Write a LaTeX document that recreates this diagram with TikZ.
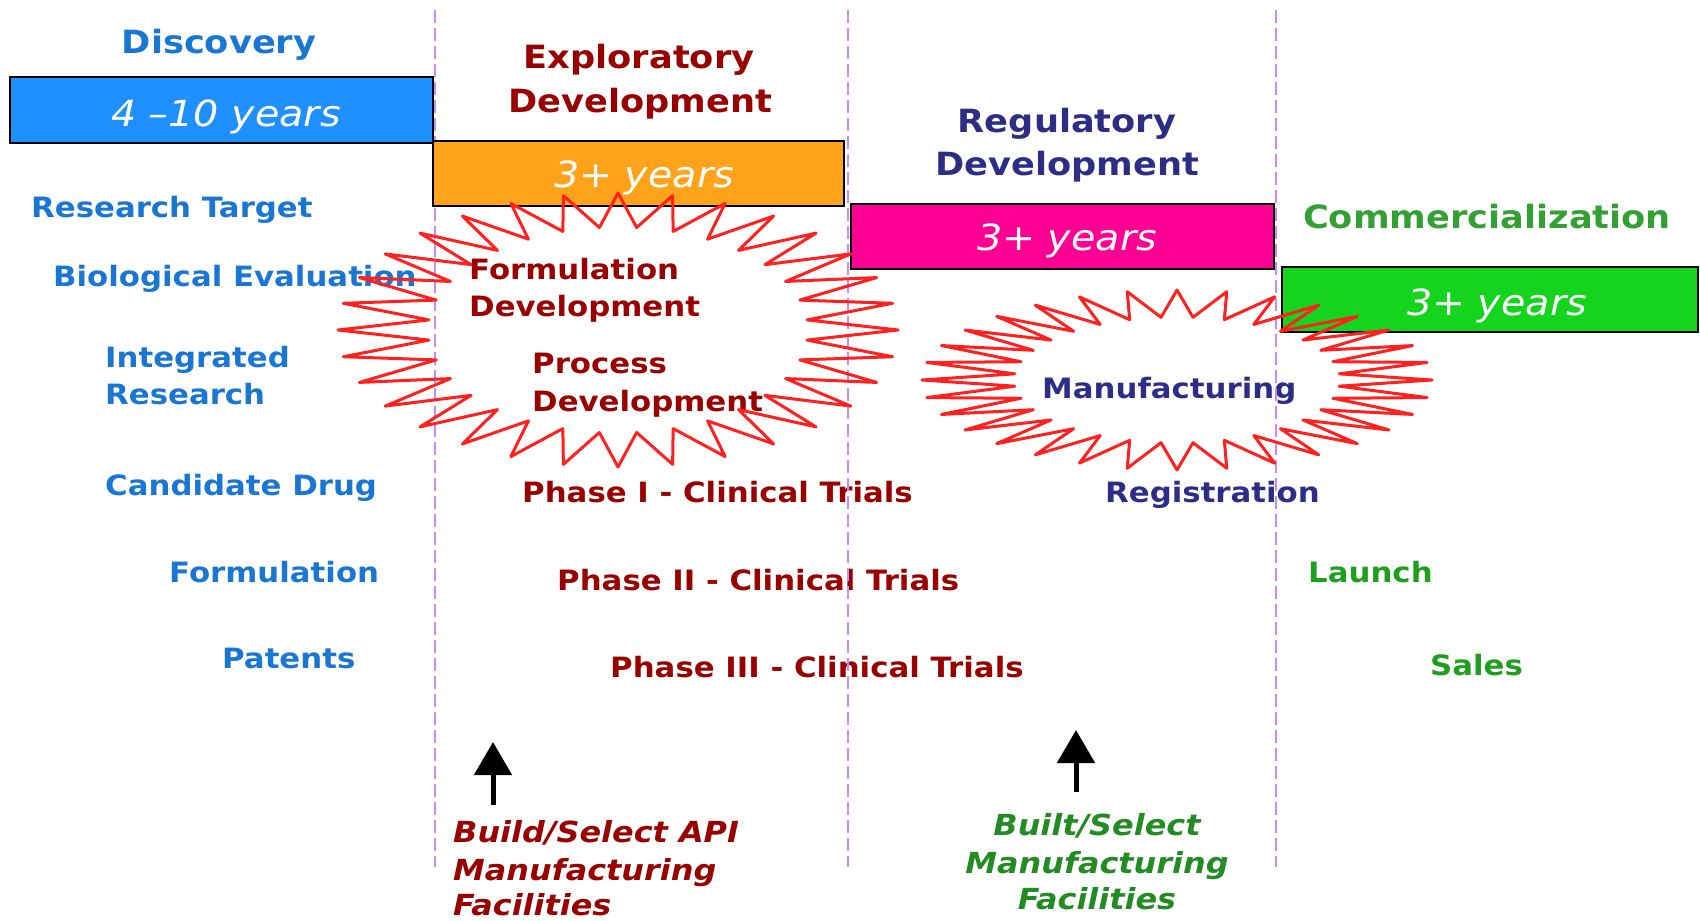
\documentclass[tikz,border=0pt]{standalone}
\usepackage{fontspec}
\setmainfont{DejaVu Sans}[FakeStretch=1.1]
\usetikzlibrary{arrows.meta}

\definecolor{discblue}{HTML}{1976D2}
\definecolor{phred}{HTML}{990000}
\definecolor{regnavy}{HTML}{2D2D86}
\definecolor{comgreen}{HTML}{33A033}
\definecolor{lgreen}{HTML}{1EA01E}
\definecolor{facgreen}{HTML}{228B22}
\definecolor{barblue}{HTML}{1E90FF}
\definecolor{barorange}{HTML}{FFA31A}
\definecolor{barpink}{HTML}{FF0094}
\definecolor{bargreen}{HTML}{14D41E}
\definecolor{guide}{HTML}{C58CFF}
\definecolor{burstred}{HTML}{FF2020}

\tikzset{
  head/.style={font=\fontsize{32bp}{38bp}\selectfont\bfseries, inner sep=0pt, anchor=base},
  item/.style={font=\fontsize{28bp}{34bp}\selectfont\bfseries, inner sep=0pt, anchor=base west},
  yrs/.style={font=\fontsize{36bp}{40bp}\selectfont\itshape, text=white, inner sep=0pt, anchor=base},
  fac/.style={font=\fontsize{29bp}{38bp}\selectfont\bfseries\itshape, inner sep=0pt},
  bar/.style={draw=black, line width=1.5bp, inner sep=0pt},
  guideline/.style={draw=guide, line width=1.5bp, dash pattern=on 13bp off 5bp},
  burst/.style={draw=burstred, line width=3bp, line join=round},
  uparrow/.style={draw=black, line width=5bp, -{Triangle[width=37bp,length=33bp]}},
}

\begin{document}
\begin{tikzpicture}[x=1bp, y=-1bp]
  \useasboundingbox (0,0) rectangle (1700,920);
  \fill[white] (0,0) rectangle (1700,920);

  % phase headings
  \node[head, text=discblue] (hdisc) at (219,53) {Discovery};
  \node[head, text=phred] (hexp1) at (639,68) {Exploratory};
  \node[head, text=phred] (hexp2) at (640,112) {Development};
  \node[head, text=regnavy] (hreg1) at (1067,132) {Regulatory};
  \node[head, text=regnavy] (hreg2) at (1067,175) {Development};
  \node[head, text=comgreen] (hcom) at (1487,228) {Commercialization};

  % discovery activities
  \node[item, text=discblue] (rtarget) at (31,217) {Research Target};
  \node[item, text=discblue] (bioeval) at (53,286) {Biological Evaluation};
  \node[item, text=discblue] (intres1) at (105,367) {Integrated};
  \node[item, text=discblue] (intres2) at (105,404) {Research};
  \node[item, text=discblue] (cdrug) at (105,495) {Candidate Drug};
  \node[item, text=discblue] (dform) at (169,582) {Formulation};
  \node[item, text=discblue] (patents) at (222,668) {Patents};

  % exploratory development
  \node[item, text=phred] (fdev1) at (469,279) {Formulation};
  \node[item, text=phred] (fdev2) at (469,316) {Development};
  \node[item, text=phred] (pdev1) at (532,373) {Process};
  \node[item, text=phred] (pdev2) at (532,411) {Development};
  \node[item, text=phred] (ph1) at (522,502) {Phase I - Clinical Trials};
  \node[item, text=phred] (ph2) at (557,590) {Phase II - Clinical Trials};
  \node[item, text=phred] (ph3) at (610,677) {Phase III - Clinical Trials};

  % regulatory development
  \node[item, text=regnavy] (manuf) at (1042,398) {Manufacturing};
  \node[item, text=regnavy] (regist) at (1105,502) {Registration};

  % commercialization
  \node[item, text=lgreen] (launch) at (1308,582) {Launch};
  \node[item, text=lgreen] (sales) at (1430,675) {Sales};

  % facilities notes
  \node[fac, text=phred, anchor=base west] (api1) at (453,842) {Build/Select API};
  \node[fac, text=phred, anchor=base west] (api2) at (453,880) {Manufacturing};
  \node[fac, text=phred, anchor=base west] (api3) at (453,915) {Facilities};
  \node[fac, text=facgreen, anchor=base] (mfg1) at (1097,835) {Built/Select};
  \node[fac, text=facgreen, anchor=base] (mfg2) at (1097,873) {Manufacturing};
  \node[fac, text=facgreen, anchor=base] (mfg3) at (1097,909) {Facilities};

  % stage separators
  \coordinate (sepAtop) at (435,10);   \coordinate (sepAbot) at (435,867);
  \coordinate (sepBtop) at (848,10);   \coordinate (sepBbot) at (848,867);
  \coordinate (sepCtop) at (1276,10);  \coordinate (sepCbot) at (1276,867);
  \draw[guideline] (sepAtop) -- (sepAbot);
  \draw[guideline] (sepBtop) -- (sepBbot);
  \draw[guideline] (sepCtop) -- (sepCbot);

  % duration bars
  \node[bar, fill=barblue, minimum width=423bp, minimum height=66bp] (bdisc) at (221.5,110) {};
  \node[bar, fill=barorange, minimum width=411bp, minimum height=65bp] (bexp) at (638.5,173.5) {};
  \node[bar, fill=barpink, minimum width=423bp, minimum height=65bp] (breg) at (1062.5,236.5) {};
  \node[bar, fill=bargreen, minimum width=416bp, minimum height=65bp] (bcom) at (1490,299.5) {};
  \node[yrs] (ydisc) at (226,126) {4 –10 years};
  \node[yrs] (yexp) at (644,187) {3+ years};
  \node[yrs] (yreg) at (1067,250) {3+ years};
  \node[yrs] (ycom) at (1497,315) {3+ years};

  % 32-point bursts
  \coordinate (burstA) at (618,330);
  \coordinate (burstB) at (1177,380);
  \draw[burst, shift={(burstA)}] plot[samples at={0,...,63}]
    ({ifthenelse(mod(\x,2)==0,280,190)*cos(\x*5.625)},
     {ifthenelse(mod(\x,2)==0,137,103)*sin(\x*5.625)}) -- cycle;
  \draw[burst, shift={(burstB)}] plot[samples at={0,...,63}]
    ({ifthenelse(mod(\x,2)==0,255,163)*cos(\x*5.625)},
     {ifthenelse(mod(\x,2)==0,90,63)*sin(\x*5.625)}) -- cycle;

  % arrows pointing up from the facility notes
  \coordinate (apiTail) at (493,805);  \coordinate (apiTip) at (493,742);
  \coordinate (mfgTail) at (1076,792); \coordinate (mfgTip) at (1076,730);
  \draw[uparrow] (apiTail) -- (apiTip);
  \draw[uparrow] (mfgTail) -- (mfgTip);
\end{tikzpicture}
\end{document}
